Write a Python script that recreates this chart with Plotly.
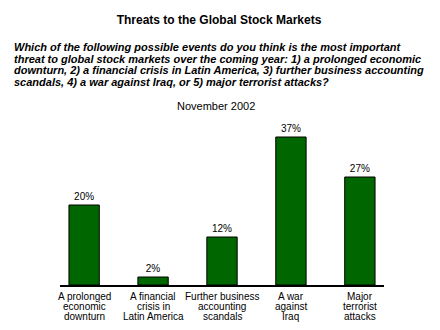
import plotly.graph_objects as go

categories = ["A prolonged economic downturn", "A financial crisis in Latin America",
              "Further business accounting scandals", "A war against Iraq", "Major terrorist attacks"]
label_lines = [["A prolonged", "economic", "downturn"],
               ["A financial", "crisis in", "Latin America"],
               ["Further business", "accounting", "scandals"],
               ["A war", "against", "Iraq"],
               ["Major", "terrorist", "attacks"]]
values = [20, 2, 12, 37, 27]
title_text = "Threats to the Global Stock Markets"
subtitle_lines = [
    "Which of the following possible events do you think is the most important",
    "threat to global stock markets over the coming year: 1) a prolonged economic",
    "downturn, 2) a financial crisis in Latin America, 3) further business accounting",
    "scandals, 4) a war against Iraq, or 5) major terrorist attacks?",
]
period = "November 2002"

FONT = "Arial, Liberation Sans, sans-serif"
W, H = 440, 330
L, R, T, B = 60, 56, 125, 45
PH = H - T - B

def px_x(p):
    return (p - L) / (W - L - R)

def px_y(p):
    return (H - B - p) / PH

fig = go.Figure(go.Bar(
    x=list(range(len(categories))), y=values,
    marker=dict(color="#006600", line=dict(color="black", width=1)),
    width=0.44,
    text=[f"{v}%" for v in values], textposition="outside",
    textfont=dict(family=FONT, size=10, color="black"),
    cliponaxis=False, hovertext=categories,
))

annotations = []
for i, lines in enumerate(label_lines):
    for j, ln in enumerate(lines):
        annotations.append(dict(x=i, xref="x", y=0, yref="paper", text=ln, showarrow=False,
                                xanchor="center", yanchor="middle", yshift=-11 - 10 * j,
                                font=dict(family=FONT, size=10, color="black")))
for j, ln in enumerate(subtitle_lines):
    annotations.append(dict(x=px_x(12), xref="paper", y=px_y(47 + 11.6 * j), yref="paper",
                            text=f"<b><i>{ln}</i></b>", showarrow=False,
                            xanchor="left", yanchor="middle",
                            font=dict(family=FONT, size=11, color="black")))
annotations.append(dict(x=px_x(216), xref="paper", y=px_y(106), yref="paper", text=period,
                        showarrow=False, xanchor="center", yanchor="middle",
                        font=dict(family=FONT, size=11, color="black")))

fig.update_layout(
    width=W, height=H,
    margin=dict(l=L, r=R, t=T, b=B, pad=0),
    paper_bgcolor="white", plot_bgcolor="white",
    showlegend=False,
    title=dict(text=f"<b>{title_text}</b>", x=219 / W, xanchor="center",
               y=1 - 20 / H, yanchor="middle", yref="container",
               font=dict(family=FONT, size=12, color="black")),
    xaxis=dict(range=[-0.35, 4.35], showticklabels=False, ticks="", showgrid=False,
               showline=True, linecolor="black", linewidth=2, zeroline=False, fixedrange=True),
    yaxis=dict(range=[0, 40], visible=False, showgrid=False, zeroline=False, fixedrange=True),
    annotations=annotations,
)

fig.write_html("out.html")
